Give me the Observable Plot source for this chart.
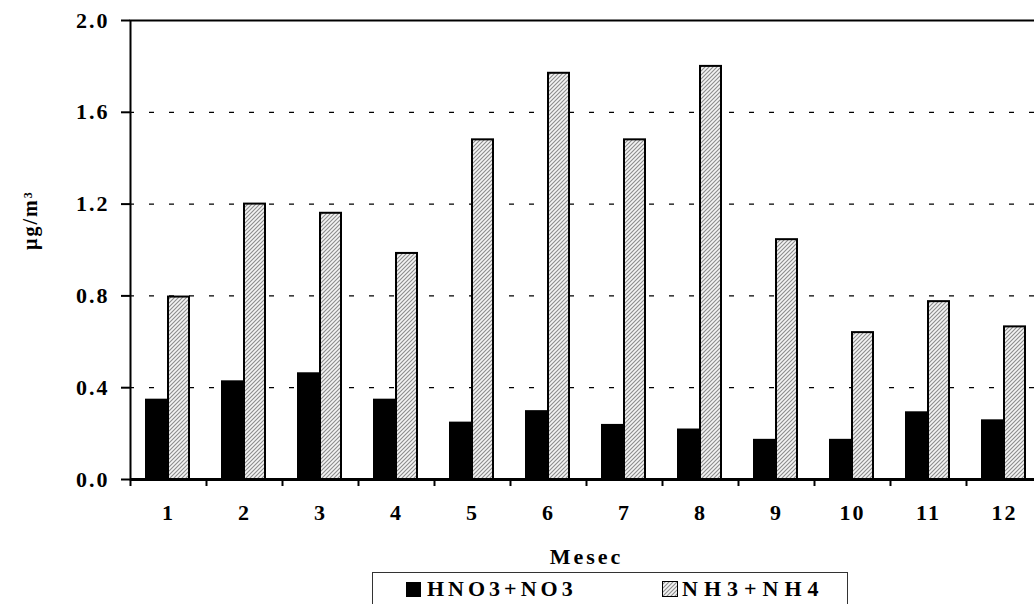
<!DOCTYPE html>
<html>
<head>
<meta charset="utf-8">
<script src="https://cdn.jsdelivr.net/npm/d3@7"></script>
<script src="https://cdn.jsdelivr.net/npm/@observablehq/plot@0.6"></script>
<style>
  body { margin: 0; background: #fff; overflow: hidden; font-family: "Liberation Serif", "Times New Roman", serif; }
  #wrap { position: relative; width: 1034px; height: 604px; overflow: hidden; background: #fff; }
  #legend { position: absolute; left: 372px; top: 572px; width: 476px; height: 44px; border: 1px solid #333; box-sizing: border-box; background: #fff; }
  .item { position: absolute; top: 3px; display: flex; align-items: center; font-weight: bold; font-size: 22px; color: #000; }
  .sw { width: 15px; height: 15px; margin-right: 6px; box-sizing: border-box; }
</style>
</head>
<body>
<svg width="0" height="0" style="position:absolute">
  <defs>
    <pattern id="hatch" patternUnits="userSpaceOnUse" width="4" height="4">
      <rect width="4" height="4" fill="#f4f4f4"></rect>
      <path d="M-1,1 l2,-2 M0,4 l4,-4 M3,5 l2,-2" stroke="#8c8c8c" stroke-width="1.1"></path>
    </pattern>
  </defs>
</svg>
<div id="wrap">
  <div id="chart"></div>
  <div id="legend"></div>
</div>
<script>
const months = ["1","2","3","4","5","6","7","8","9","10","11","12"];
const seriesNames = ["HNO3+NO3", "NH3+NH4"];
const hno3 = [0.35, 0.43, 0.465, 0.35, 0.25, 0.30, 0.24, 0.22, 0.175, 0.175, 0.295, 0.26];
const nh3  = [0.795, 1.20, 1.16, 0.985, 1.48, 1.77, 1.48, 1.80, 1.045, 0.64, 0.775, 0.665];
const yTicks = [0, 0.4, 0.8, 1.2, 1.6, 2.0];
const gridTicks = [0.4, 0.8, 1.2, 1.6];
const xLabel = "Mesec";
const yLabel = "µg/m³";

const rows = months.map((m, i) => ({month: m, hno3: hno3[i], nh3: nh3[i]}));

const chart = Plot.plot({
  width: 1034,
  height: 570,
  marginLeft: 130,
  marginRight: -8,
  marginTop: 20,
  marginBottom: 91,
  style: {fontFamily: "'Liberation Serif', 'Times New Roman', serif", fontWeight: "bold", fontSize: "22px", background: "white", color: "black", letterSpacing: "2px"},
  x: {domain: months, padding: 0},
  y: {domain: [0, 2]},
  marks: [
    Plot.ruleY(gridTicks, {stroke: "black", strokeWidth: 1.3, strokeDasharray: "5,15", strokeDashoffset: 1}),
    Plot.barY(rows, {x: "month", y: "hno3", fill: "black", insetLeft: 15, insetRight: 38}),
    Plot.barY(rows, {x: "month", y: "nh3", fill: "url(#hatch)", stroke: "black", strokeWidth: 2, insetLeft: 38, insetRight: 17}),
    Plot.frame({stroke: "black", strokeWidth: 2}),
    Plot.ruleY([0], {stroke: "black", strokeWidth: 3}),
    Plot.axisY({ticks: yTicks, tickFormat: d3.format(".1f"), tickSize: 9, tickPadding: 12, strokeWidth: 2, label: null, fontSize: 22}),
    Plot.axisX({tickSize: 7, tickFormat: () => "", dx: -38, strokeWidth: 2, label: null}),
    Plot.axisX({tickSize: 0, tickPadding: 25, label: null, fontSize: 22}),
    Plot.text([xLabel], {frameAnchor: "bottom", dy: 84, lineAnchor: "bottom", fontSize: 22, fontWeight: "bold"}),
    Plot.text([yLabel], {frameAnchor: "left", dx: -100, rotate: -90, fontSize: 20, fontWeight: "bold"})
  ]
});
document.getElementById("chart").appendChild(chart);
d3.select(chart).selectAll("text").filter(function() { return this.textContent === xLabel; }).style("letter-spacing", "3px");

// legend
const legend = document.getElementById("legend");
const lefts = [33, 289];
const spacings = ["4px", "6px"];
seriesNames.forEach((name, i) => {
  const item = document.createElement("div");
  item.className = "item";
  item.style.left = lefts[i] + "px";
  item.style.letterSpacing = spacings[i];
  let sw;
  if (i === 0) {
    sw = document.createElement("div");
    sw.className = "sw";
    sw.style.background = "#000";
  } else {
    sw = document.createElementNS("http://www.w3.org/2000/svg", "svg");
    sw.setAttribute("width", 16); sw.setAttribute("height", 16);
    sw.style.marginRight = "4px";
    sw.innerHTML = '<rect x="0.5" y="0.5" width="15" height="15" fill="url(#hatch)" stroke="#000" stroke-width="1"></rect>';
  }
  const t = document.createElement("span");
  t.textContent = name;
  item.appendChild(sw);
  item.appendChild(t);
  legend.appendChild(item);
});
</script>
</body>
</html>
